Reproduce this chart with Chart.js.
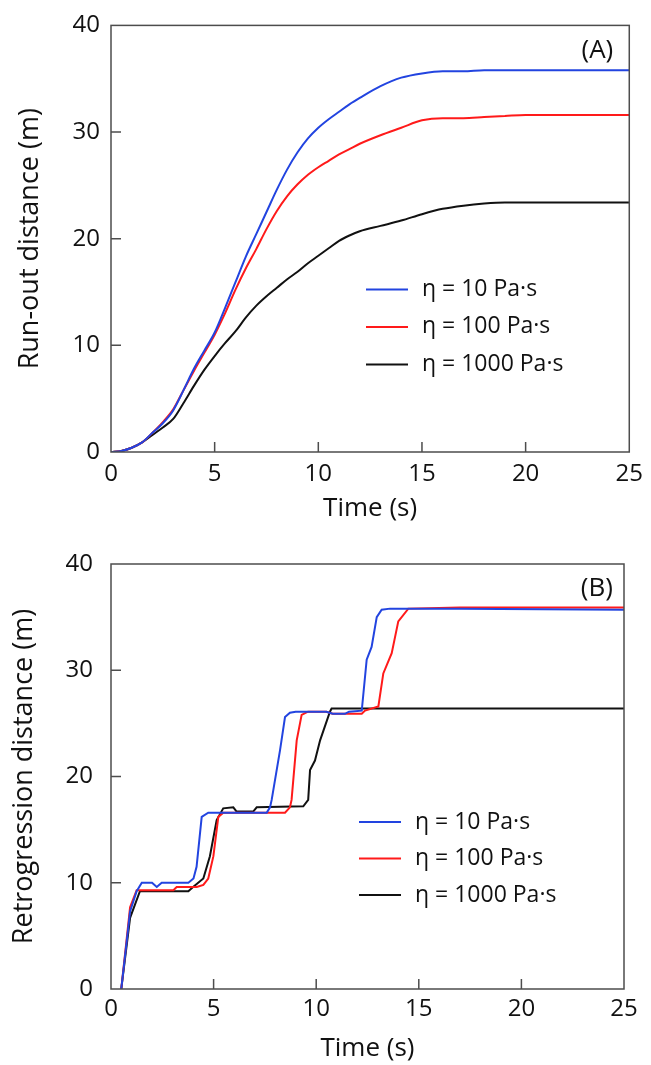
<!DOCTYPE html>
<html>
<head>
<meta charset="utf-8">
<script src="https://cdn.jsdelivr.net/npm/chart.js@4.4.0/dist/chart.umd.min.js"></script>
<style>
  body { margin: 0; background: #fff; }
  #wrapA { position: absolute; left: 0; top: 0; }
  #wrapB { position: absolute; left: 0; top: 530px; }
</style>
</head>
<body>
<div id="wrapA"><canvas id="chartA" width="651" height="530"></canvas></div>
<div id="wrapB"><canvas id="chartB" width="651" height="535"></canvas></div>
<script>
// series labels
const seriesLabels = ['η = 10 Pa·s', 'η = 100 Pa·s', 'η = 1000 Pa·s'];
const xTicks = [0, 5, 10, 15, 20, 25];
const yTicks = [0, 10, 20, 30, 40];

// (A) run-out distance vs time
const timeA = [0, 0.5, 1, 1.5, 2, 2.5, 3, 3.5, 4, 4.5, 5, 5.5, 6, 6.5, 7, 7.5, 8, 8.5, 9, 9.5,
  10, 10.5, 11, 11.5, 12, 13, 14, 15, 16, 17, 18, 19, 20, 22, 25];
const runout10 = [0, 0.1, 0.4, 0.9, 1.8, 2.7, 3.9, 5.8, 7.8, 9.5, 11.2, 13.5, 15.9, 18.3, 20.4, 22.5, 24.6, 26.5, 28.1, 29.4,
  30.4, 31.2, 31.9, 32.6, 33.2, 34.3, 35.1, 35.5, 35.7, 35.7, 35.8, 35.8, 35.8, 35.8, 35.8];
const runout100 = [0, 0.1, 0.4, 0.9, 1.8, 2.8, 4.0, 5.8, 7.6, 9.3, 11.0, 13.0, 15.2, 17.2, 19.0, 20.9, 22.6, 24.0, 25.1, 26.0,
  26.7, 27.3, 27.9, 28.4, 28.9, 29.7, 30.4, 31.1, 31.3, 31.3, 31.4, 31.5, 31.6, 31.6, 31.6];
const runout1000 = [0, 0.1, 0.4, 0.9, 1.6, 2.3, 3.1, 4.6, 6.2, 7.7, 9.0, 10.2, 11.3, 12.6, 13.7, 14.6, 15.4, 16.2, 16.9, 17.7,
  18.4, 19.1, 19.8, 20.3, 20.7, 21.2, 21.7, 22.3, 22.8, 23.1, 23.3, 23.4, 23.4, 23.4, 23.4];

// (B) retrogression distance vs time
const retroT10 = [0.5, 0.93, 1.25, 1.5, 2.0, 2.23, 2.47, 3.77, 4.02, 4.17, 4.42, 4.74, 7.59, 7.75, 7.83, 8.24, 8.48, 8.72, 9.0, 10.5,
  10.8, 11.4, 11.6, 12.22, 12.46, 12.7, 12.95, 13.19, 13.6, 17.0, 25.0];
const retro10 = [0, 7.3, 9.2, 10.0, 10.0, 9.6, 10.0, 10.0, 10.4, 11.5, 16.2, 16.6, 16.6, 17.1, 17.8, 22.5, 25.6, 26.0, 26.1, 26.1,
  25.9, 25.9, 26.1, 26.2, 31.0, 32.2, 35.0, 35.7, 35.8, 35.8, 35.7];
const retroT100 = [0.5, 0.93, 1.25, 1.45, 3.04, 3.2, 4.18, 4.5, 4.74, 4.99, 5.23, 5.47, 8.48, 8.72, 8.80, 9.05, 9.29, 9.6, 10.5, 10.8,
  11.4, 12.0, 12.22, 12.38, 13.03, 13.27, 13.68, 14.0, 14.49, 17.0, 25.0];
const retro100 = [0, 7.7, 9.3, 9.3, 9.3, 9.6, 9.6, 9.8, 10.4, 12.5, 16.2, 16.6, 16.6, 17.1, 17.8, 23.4, 25.8, 26.1, 26.1, 25.9,
  25.9, 25.9, 25.9, 26.2, 26.6, 29.7, 31.6, 34.6, 35.8, 35.9, 35.9];
const retroT1000 = [0.5, 0.93, 1.41, 3.77, 4.0, 4.5, 4.82, 5.15, 5.47, 5.96, 6.12, 6.93, 7.1, 9.37, 9.61, 9.70, 9.94, 10.19, 10.67, 10.75, 25.0];
const retro1000 = [0, 6.7, 9.2, 9.2, 9.6, 10.4, 12.5, 15.9, 17.0, 17.1, 16.7, 16.7, 17.1, 17.2, 17.8, 20.6, 21.5, 23.4, 26.1, 26.4, 26.4];

const colors = ['#2244e0', '#ff1a1a', '#111111'];
const txt = '#111';

function pts(xs, ys) {
  return xs.map((x, i) => ({ x: x, y: ys[i] }));
}

// frame, inward ticks, panel letter and legend
const framePlugin = {
  id: 'frame',
  afterDatasetsDraw(chart, args, opts) {
    const { ctx, chartArea: a, scales: { x, y } } = chart;
    ctx.save();
    ctx.strokeStyle = '#4d4d4d';
    ctx.lineWidth = 1.5;
    ctx.strokeRect(a.left, a.top, a.right - a.left, a.bottom - a.top);
    ctx.beginPath();
    x.ticks.forEach(t => {
      if (t.value > x.min && t.value < x.max) {
        const px = x.getPixelForValue(t.value);
        ctx.moveTo(px, a.bottom);
        ctx.lineTo(px, a.bottom - 10);
      }
    });
    y.ticks.forEach(t => {
      if (t.value > y.min && t.value < y.max) {
        const py = y.getPixelForValue(t.value);
        ctx.moveTo(a.left, py);
        ctx.lineTo(a.left + 10, py);
      }
    });
    ctx.stroke();

    ctx.fillStyle = txt;
    ctx.font = '26px "Open Sans"';
    ctx.textAlign = 'right';
    ctx.textBaseline = 'middle';
    ctx.fillText(opts.label, a.right - opts.labelRight, a.top + 25);

    ctx.font = '23px "Open Sans"';
    ctx.textAlign = 'left';
    chart.data.datasets.forEach((ds, i) => {
      const ly = a.top + opts.legendTop + i * opts.legendGap;
      const lx = a.left + opts.legendLeft;
      ctx.strokeStyle = ds.borderColor;
      ctx.lineWidth = 2;
      ctx.beginPath();
      ctx.moveTo(lx, ly);
      ctx.lineTo(lx + 42, ly);
      ctx.stroke();
      ctx.fillText(ds.label, lx + 56, ly);
    });
    ctx.restore();
  }
};

function makeChart(id, sets, o) {
  return new Chart(document.getElementById(id), {
    type: 'line',
    data: {
      datasets: sets.map((d, i) => ({
        label: seriesLabels[i],
        data: d,
        borderColor: colors[i],
        borderWidth: 2,
        pointRadius: 0,
        fill: false,
        tension: o.smooth ? 0.4 : 0,
        cubicInterpolationMode: o.smooth ? 'monotone' : 'default'
      }))
    },
    options: {
      responsive: false,
      animation: false,
      layout: { padding: { left: 0, top: o.top, right: o.right, bottom: 0 } },
      plugins: {
        legend: { display: false },
        tooltip: { enabled: false },
        frame: o.frame
      },
      scales: {
        x: {
          type: 'linear',
          min: 0, max: 25,
          afterFit: s => { s.height = o.xHeight; },
          afterBuildTicks: s => { s.ticks = xTicks.map(v => ({ value: v })); },
          grid: { display: false, drawTicks: false },
          border: { display: false },
          ticks: { padding: o.xPad, color: txt, maxRotation: 0, autoSkip: false,
            font: { family: 'Open Sans', size: 24 } },
          title: { display: true, text: 'Time (s)', color: txt,
            font: { family: 'Open Sans', size: 26 }, padding: { top: 0, bottom: o.xTitlePad } }
        },
        y: {
          min: 0, max: 40,
          afterFit: s => { s.width = 111; },
          afterBuildTicks: s => { s.ticks = yTicks.map(v => ({ value: v })); },
          grid: { display: false, drawTicks: false },
          border: { display: false },
          ticks: { padding: o.yPad, color: txt, font: { family: 'Open Sans', size: 24 } },
          title: { display: true, text: o.yTitle, color: txt,
            font: { family: 'Open Sans', size: 27 }, padding: { top: o.yTitlePad, bottom: 0 } }
        }
      }
    },
    plugins: [framePlugin]
  });
}

makeChart('chartA', [pts(timeA, runout10), pts(timeA, runout100), pts(timeA, runout1000)], {
  smooth: true, top: 18, right: 15, xHeight: 78, xPad: 8, xTitlePad: 6, yPad: 11,
  yTitle: 'Run-out distance (m)', yTitlePad: 14,
  frame: { label: '(A)', labelRight: 16, legendLeft: 255, legendTop: 264, legendGap: 37.5 }
});

makeChart('chartB', [pts(retroT10, retro10), pts(retroT100, retro100), pts(retroT1000, retro1000)], {
  smooth: false, top: 34, right: 27, xHeight: 76, xPad: 6, xTitlePad: 1, yPad: 18,
  yTitle: 'Retrogression distance (m)', yTitlePad: 8,
  frame: { label: '(B)', labelRight: 11, legendLeft: 248, legendTop: 258, legendGap: 36.5 }
});
</script>
</body>
</html>
